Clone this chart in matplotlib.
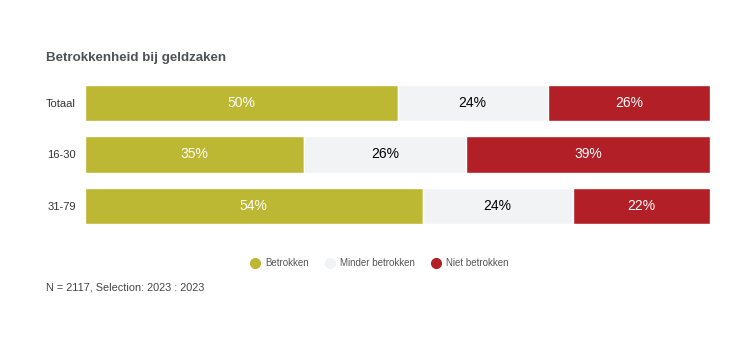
import matplotlib
matplotlib.use('Agg')
import matplotlib.pyplot as plt
from matplotlib.lines import Line2D

plt.rcParams['font.family'] = ['Liberation Sans', 'DejaVu Sans']

# Data
groepen = ['Totaal', '16-30', '31-79']
betrokken = [50, 35, 54]
minder_betrokken = [24, 26, 24]
niet_betrokken = [26, 39, 22]
reeksen = ['Betrokken', 'Minder betrokken', 'Niet betrokken']
kleuren = ['#BDB833', '#F2F3F5', '#B31F27']
tekstkleuren = ['white', 'black', 'white']

fig = plt.figure(figsize=(7.41, 3.51), dpi=100)
ax = fig.add_axes([85 / 741, 1 - 231.75 / 351, 625 / 741, 154.5 / 351])

y = list(range(len(groepen)))
links = [0] * len(groepen)
for waarden, kleur, tk, naam in zip([betrokken, minder_betrokken, niet_betrokken],
                                    kleuren, tekstkleuren, reeksen):
    bars = ax.barh(y, waarden, left=links, height=0.7, color=kleur,
                   edgecolor='white', linewidth=1, label=naam)
    for b, w in zip(bars, waarden):
        ax.text(b.get_x() + b.get_width() / 2, b.get_y() + b.get_height() / 2,
                f'{w}%', ha='center', va='center', color=tk, fontsize=10)
    links = [l + w for l, w in zip(links, waarden)]

ax.set_xlim(0, 100)
ax.set_ylim(2.5, -0.5)
ax.set_yticks(y)
ax.set_yticklabels(groepen, fontsize=8, color='#333333')
ax.tick_params(axis='y', length=0, pad=6.5)
ax.set_xticks([])
for s in ax.spines.values():
    s.set_visible(False)

fig.text(46 / 741, 1 - 58 / 351, 'Betrokkenheid bij geldzaken', fontsize=9.6,
         fontweight='bold', color='#4F5358', va='center')

handles = [Line2D([], [], marker='o', linestyle='', markersize=7,
                  markerfacecolor=k, markeredgecolor=k) for k in kleuren]
fig.legend(handles, reeksen, loc='center', bbox_to_anchor=(377 / 741, 1 - 263 / 351),
           ncol=3, frameon=False, fontsize=7, handletextpad=0.1, columnspacing=1.1,
           labelcolor='#555555')

fig.text(46 / 741, 1 - 288 / 351, 'N = 2117, Selection: 2023 : 2023', fontsize=7.8,
         color='#444444', va='center')

fig.savefig('out.png', dpi=100)
